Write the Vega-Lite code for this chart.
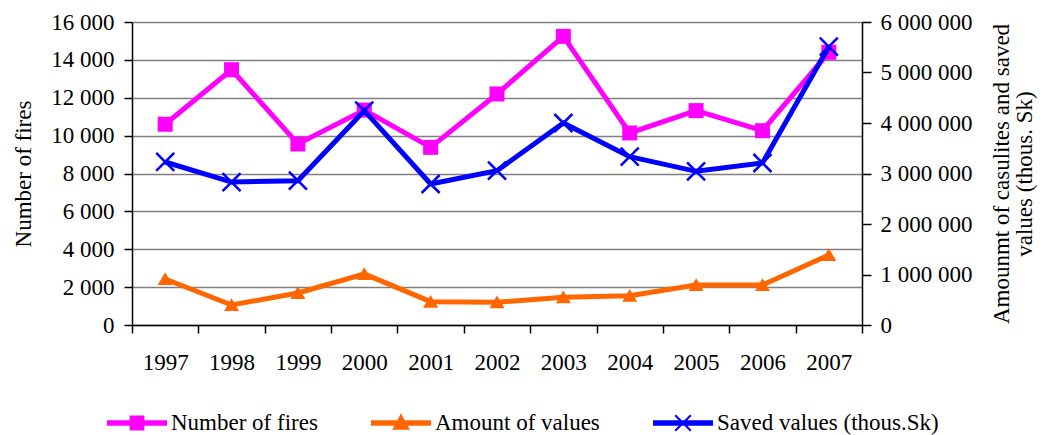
{
  "$schema": "https://vega.github.io/schema/vega-lite/v6.json",
  "width": 730,
  "height": 303,
  "padding": {"left": 12, "top": 11, "right": 2, "bottom": 2},
  "config": {
    "font": "Liberation Serif",
    "view": {"stroke": null},
    "axis": {
      "labelFont": "Liberation Serif", "titleFont": "Liberation Serif",
      "labelFontSize": 23, "titleFontSize": 23, "titleFontWeight": "normal",
      "labelColor": "#000", "titleColor": "#000", "domainColor": "#000", "tickColor": "#000",
      "domainWidth": 1.5, "tickWidth": 1.5
    }
  },
  "data": {"values": [
    {"year": "1997", "series": "Number of fires", "value": 10600},
    {"year": "1998", "series": "Number of fires", "value": 13480},
    {"year": "1999", "series": "Number of fires", "value": 9560},
    {"year": "2000", "series": "Number of fires", "value": 11350},
    {"year": "2001", "series": "Number of fires", "value": 9380},
    {"year": "2002", "series": "Number of fires", "value": 12200},
    {"year": "2003", "series": "Number of fires", "value": 15240},
    {"year": "2004", "series": "Number of fires", "value": 10140},
    {"year": "2005", "series": "Number of fires", "value": 11320},
    {"year": "2006", "series": "Number of fires", "value": 10260},
    {"year": "2007", "series": "Number of fires", "value": 14400},
    {"year": "1997", "series": "Amount of values", "value": 911000},
    {"year": "1998", "series": "Amount of values", "value": 396000},
    {"year": "1999", "series": "Amount of values", "value": 634000},
    {"year": "2000", "series": "Amount of values", "value": 1010000},
    {"year": "2001", "series": "Amount of values", "value": 462000},
    {"year": "2002", "series": "Amount of values", "value": 449000},
    {"year": "2003", "series": "Amount of values", "value": 548000},
    {"year": "2004", "series": "Amount of values", "value": 581000},
    {"year": "2005", "series": "Amount of values", "value": 792000},
    {"year": "2006", "series": "Amount of values", "value": 792000},
    {"year": "2007", "series": "Amount of values", "value": 1386000},
    {"year": "1997", "series": "Saved values (thous.Sk)", "value": 3228000},
    {"year": "1998", "series": "Saved values (thous.Sk)", "value": 2831000},
    {"year": "1999", "series": "Saved values (thous.Sk)", "value": 2857000},
    {"year": "2000", "series": "Saved values (thous.Sk)", "value": 4244000},
    {"year": "2001", "series": "Saved values (thous.Sk)", "value": 2792000},
    {"year": "2002", "series": "Saved values (thous.Sk)", "value": 3056000},
    {"year": "2003", "series": "Saved values (thous.Sk)", "value": 4000000},
    {"year": "2004", "series": "Saved values (thous.Sk)", "value": 3333000},
    {"year": "2005", "series": "Saved values (thous.Sk)", "value": 3043000},
    {"year": "2006", "series": "Saved values (thous.Sk)", "value": 3208000},
    {"year": "2007", "series": "Saved values (thous.Sk)", "value": 5511000}
  ]},
  "encoding": {
    "x": {
      "field": "year", "type": "ordinal", "bandPosition": 0.5,
      "scale": {"type": "band", "paddingInner": 0, "paddingOuter": 0},
      "axis": {"title": null, "labelAngle": 0, "tickBand": "extent", "tickSize": 8, "labelPadding": 18, "grid": false}
    }
  },
  "layer": [
    {
      "transform": [{"filter": "datum.series === 'Number of fires'"}],
      "encoding": {
        "y": {
          "field": "value", "type": "quantitative",
          "scale": {"domain": [0, 16000], "nice": false, "zero": true},
          "axis": {
            "orient": "left", "title": "Number of fires",
            "values": [0, 2000, 4000, 6000, 8000, 10000, 12000, 14000, 16000],
            "labelExpr": "replace(format(datum.value, ','), regexp(',', 'g'), ' ')",
            "tickSize": 8, "labelPadding": 10, "titlePadding": 15,
            "grid": true, "gridColor": "#808080", "gridWidth": 1.5
          }
        }
      },
      "layer": [
        {
          "mark": {"type": "line", "strokeWidth": 5},
          "encoding": {
            "color": {
              "field": "series", "type": "nominal",
              "scale": {"domain": ["Number of fires", "Amount of values", "Saved values (thous.Sk)"], "range": ["#FF00FF", "#FF6600", "#0000FF"]},
              "legend": {
                "orient": "none", "legendX": -25, "legendY": 371, "direction": "horizontal", "title": null,
                "labelFont": "Liberation Serif", "labelFontSize": 23, "labelColor": "#000", "labelLimit": 400,
                "symbolSize": 3364, "labelOffset": 4, "columnPadding": 50,
                "encode": {"symbols": {"update": {
                  "shape": {"signal": "datum.value === 'Number of fires' ? 'M-1,-0.06H1V0.06H-1ZM-0.22,-0.22H0.22V0.22H-0.22Z' : datum.value === 'Amount of values' ? 'M-1,-0.06H1V0.06H-1ZM0,-0.26L0.25,0.2H-0.25Z' : 'M-1,-0.06H1V0.06H-1ZM-0.27,-0.27L0.27,0.27M-0.27,0.27L0.27,-0.27'"},
                  "fill": {"signal": "datum.value === 'Number of fires' ? '#FF00FF' : datum.value === 'Amount of values' ? '#FF6600' : '#0000FF'"},
                  "stroke": {"signal": "datum.value === 'Number of fires' ? '#FF00FF' : datum.value === 'Amount of values' ? '#FF6600' : '#0000FF'"},
                  "strokeWidth": {"value": 2},
                  "opacity": {"value": 1}
                }}}
              }
            }
          }
        },
        {"mark": {"type": "point", "shape": "square", "filled": true, "size": 225, "opacity": 1, "color": "#FF00FF"}}
      ]
    },
    {
      "transform": [{"filter": "datum.series !== 'Number of fires'"}],
      "encoding": {
        "y": {
          "field": "value", "type": "quantitative",
          "scale": {"domain": [0, 6000000], "nice": false, "zero": true},
          "axis": {
            "orient": "right", "title": ["Amounmt of casulites and saved", "values  (thous. Sk)"],
            "titleAngle": -90, "titleBaseline": "bottom", "titleLineHeight": 23,
            "values": [0, 1000000, 2000000, 3000000, 4000000, 5000000, 6000000],
            "labelExpr": "replace(format(datum.value, ','), regexp(',', 'g'), ' ')",
            "tickSize": 9, "labelPadding": 9, "titlePadding": 18, "grid": false
          }
        }
      },
      "layer": [
        {
          "mark": {"type": "line", "strokeWidth": 5},
          "encoding": {
            "color": {
              "field": "series", "type": "nominal",
              "scale": {"domain": ["Number of fires", "Amount of values", "Saved values (thous.Sk)"], "range": ["#FF00FF", "#FF6600", "#0000FF"]},
              "legend": {
                "orient": "none", "legendX": -25, "legendY": 371, "direction": "horizontal", "title": null,
                "labelFont": "Liberation Serif", "labelFontSize": 23, "labelColor": "#000", "labelLimit": 400,
                "symbolSize": 3364, "labelOffset": 4, "columnPadding": 50,
                "encode": {"symbols": {"update": {
                  "shape": {"signal": "datum.value === 'Number of fires' ? 'M-1,-0.06H1V0.06H-1ZM-0.22,-0.22H0.22V0.22H-0.22Z' : datum.value === 'Amount of values' ? 'M-1,-0.06H1V0.06H-1ZM0,-0.26L0.25,0.2H-0.25Z' : 'M-1,-0.06H1V0.06H-1ZM-0.27,-0.27L0.27,0.27M-0.27,0.27L0.27,-0.27'"},
                  "fill": {"signal": "datum.value === 'Number of fires' ? '#FF00FF' : datum.value === 'Amount of values' ? '#FF6600' : '#0000FF'"},
                  "stroke": {"signal": "datum.value === 'Number of fires' ? '#FF00FF' : datum.value === 'Amount of values' ? '#FF6600' : '#0000FF'"},
                  "strokeWidth": {"value": 2},
                  "opacity": {"value": 1}
                }}}
              }
            }
          }
        },
        {
          "transform": [{"filter": "datum.series === 'Amount of values'"}],
          "mark": {"type": "point", "shape": "M0,-0.9L1,0.8L-1,0.8Z", "filled": true, "size": 225, "opacity": 1, "color": "#FF6600"}
        },
        {
          "transform": [{"filter": "datum.series === 'Saved values (thous.Sk)'"}],
          "mark": {"type": "point", "shape": "M-1,-1L1,1M-1,1L1,-1", "filled": false, "size": 324, "strokeWidth": 2.5, "opacity": 1, "color": "#0000FF"}
        }
      ]
    }
  ],
  "resolve": {"scale": {"y": "independent"}}
}
